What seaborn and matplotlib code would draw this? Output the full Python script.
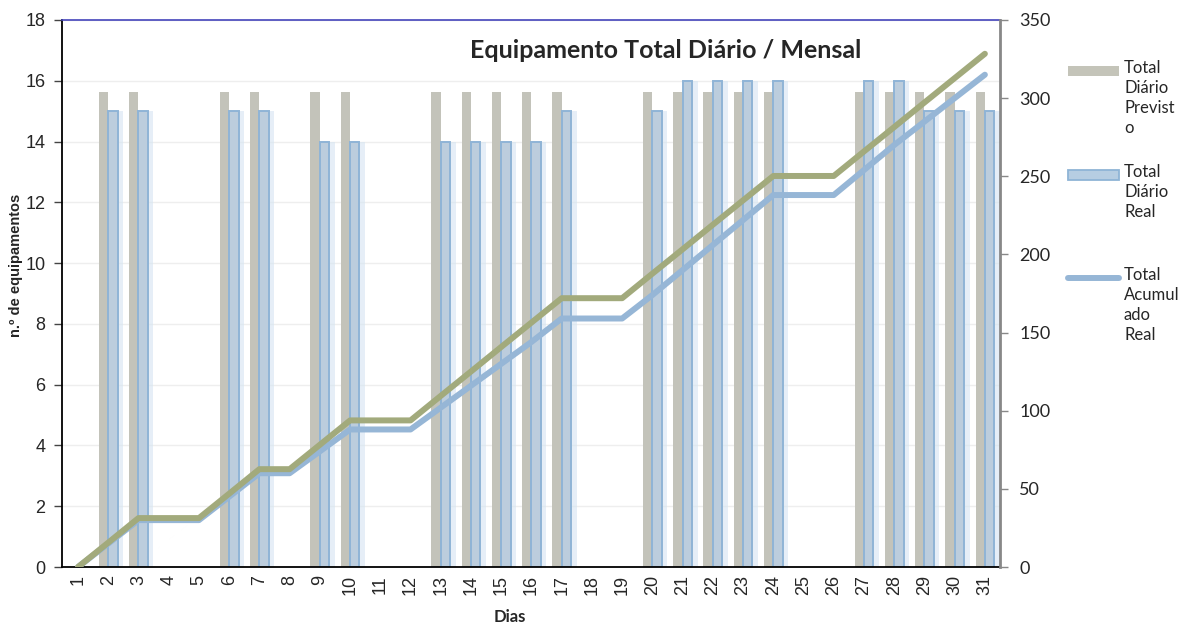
import numpy as np
import pandas as pd
import matplotlib
matplotlib.use("Agg")
import matplotlib.pyplot as plt
import matplotlib.patheffects as pe
from matplotlib.patches import Rectangle
from matplotlib.lines import Line2D
import seaborn as sns

# ---- data ----
dias = list(range(1, 32))
diario_previsto = [0, 15.64, 15.64, 0, 0, 15.64, 15.64, 0, 15.64, 15.64, 0, 0,
                   15.64, 15.64, 15.64, 15.64, 15.64, 0, 0, 15.64, 15.64, 15.64,
                   15.64, 15.64, 0, 0, 15.64, 15.64, 15.64, 15.64, 15.64]
diario_real = [0, 15, 15, 0, 0, 15, 15, 0, 14, 14, 0, 0, 14, 14, 14, 14, 15, 0, 0,
               15, 16, 16, 16, 16, 0, 0, 16, 16, 15, 15, 15]
acum_previsto = [0, 15.6, 31.3, 31.3, 31.3, 46.9, 62.6, 62.6, 78.2, 93.8, 93.8,
                 93.8, 109.5, 125.1, 140.8, 156.4, 172.0, 172.0, 172.0, 187.7,
                 203.3, 219.0, 234.6, 250.2, 250.2, 250.2, 265.9, 281.5, 297.2,
                 312.8, 328.4]
acum_real = [0, 15, 30, 30, 30, 45, 60, 60, 74, 88, 88, 88, 102, 116, 130, 144,
             159, 159, 159, 174, 190, 206, 222, 238, 238, 238, 254, 270, 285, 300, 315]

lab_prev = "Total Diário Previsto"
lab_real = "Total Diário Real"
lab_acum = "Total Acumulado Real"

c_prev = "#c4c4b9"
c_real = "#b6cde2"
c_real_edge = "#8fb4d6"
c_line_prev = "#a2aa7c"
c_line_real = "#96b6d6"

df = pd.DataFrame({
    "dia": dias * 2,
    "valor": diario_previsto + diario_real,
    "serie": [lab_prev] * len(dias) + [lab_real] * len(dias),
})

sns.set_style("white")
plt.rcParams["font.family"] = ["Liberation Sans", "DejaVu Sans"]

W, H = 1181, 625
fig = plt.figure(figsize=(11.81, 6.25), dpi=100)
ax = fig.add_axes([62 / W, 1 - 567 / H, (1000 - 62) / W, (567 - 20) / H])

sns.barplot(data=df, x="dia", y="valor", hue="serie", order=dias,
            hue_order=[lab_prev, lab_real],
            palette={lab_prev: c_prev, lab_real: c_real},
            width=0.62, gap=0, errorbar=None, legend=False, ax=ax)

for bar in ax.containers[1]:
    if bar.get_height() > 0:
        bar.set_edgecolor(c_real_edge)
        bar.set_linewidth(1.4)
        bar.set_path_effects([pe.SimplePatchShadow(offset=(4, 0), shadow_rgbFace="#d6e4f2", alpha=0.6),
                              pe.Normal()])
for bar in ax.containers[0]:
    bar.set_linewidth(0)

ax.set_ylim(0, 18)
ax.set_yticks(np.arange(0, 19, 2))
ax.set_xlim(-0.53, 30.5)
ax.yaxis.grid(True, color="#eeeeee", lw=1)
ax.set_axisbelow(True)
ax.set_xlabel("")
ax.set_ylabel("")
ax.tick_params(axis="x", labelrotation=90, labelsize=13, length=0, pad=6)
ax.tick_params(axis="y", labelsize=13, length=6, width=1, color="#444444", left=True, pad=6)

for s in ["left", "bottom"]:
    ax.spines[s].set_color("black")
    ax.spines[s].set_linewidth(1.3)
ax.spines["top"].set_color("#4444bb")
ax.spines["top"].set_linewidth(1.2)
ax.spines["right"].set_visible(False)

ax2 = ax.twinx()
xpos = np.arange(len(dias))
sns.lineplot(x=xpos, y=acum_real, color=c_line_real, lw=4.3, ax=ax2,
             solid_capstyle="round")
sns.lineplot(x=xpos, y=acum_previsto, color=c_line_prev, lw=4.3, ax=ax2,
             solid_capstyle="round")
ax2.set_ylim(0, 350)
ax2.set_yticks(np.arange(0, 351, 50))
ax2.tick_params(axis="y", labelsize=13, length=6, width=1, color="#888888", right=True, pad=8)
for t in ax2.get_yticklabels():
    t.set_fontfamily("Lato")
for s in ["left", "top", "bottom"]:
    ax2.spines[s].set_visible(False)
ax2.spines["right"].set_color("#888888")
ax2.spines["right"].set_linewidth(2)
ax2.set_xlim(-0.53, 30.5)

ax.text(0.644, 0.945, "Equipamento Total Diário / Mensal", transform=ax.transAxes,
        ha="center", va="center", fontsize=18, fontweight="bold", family="Lato",
        zorder=10)

fig.text(16 / W, 1 - 265 / H, "n.º de equipamentos", rotation=90,
         ha="center", va="center", fontsize=10.5, fontweight="bold")
fig.text(510 / W, 1 - 617 / H, "Dias", ha="center", va="center",
         fontsize=12, fontweight="bold", family="Lato")

# legend on the right, drawn by hand
fig.add_artist(Rectangle((1068 / W, 1 - 76 / H), 51 / W, 10 / H, transform=fig.transFigure,
                         facecolor=c_prev, edgecolor="none"))
fig.add_artist(Rectangle((1068 / W, 1 - 180 / H), 51 / W, 10 / H, transform=fig.transFigure,
                         facecolor=c_real, edgecolor=c_real_edge, lw=1.3))
fig.add_artist(Line2D([1068 / W, 1119 / W], [1 - 278 / H, 1 - 278 / H], transform=fig.transFigure,
                      color=c_line_real, lw=4.3, solid_capstyle="round"))
leg_txt = ["Total\nDiário\nPrevist\no", "Total\nDiário\nReal", "Total\nAcumul\nado\nReal"]
leg_y = [60, 164, 267]
for txt, yy in zip(leg_txt, leg_y):
    fig.text(1124 / W, 1 - yy / H, txt, ha="left", va="top", fontsize=12,
             family="Lato", linespacing=1.3)

fig.savefig("out.png", dpi=100)
